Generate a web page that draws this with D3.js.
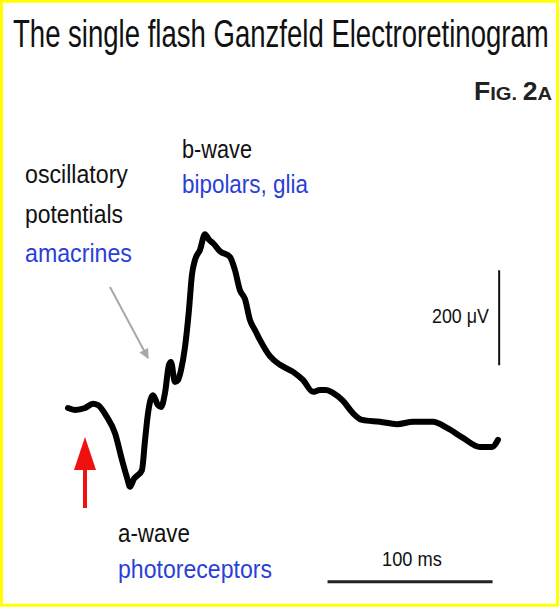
<html>
<head>
  <meta charset="utf-8">
  <script src="https://cdn.jsdelivr.net/npm/d3@7/dist/d3.min.js"></script>
  <style>
    body { margin:0; background:#fff; }
    svg text { font-family: "Liberation Sans", Arial, sans-serif; }
  </style>
</head>
<body>
  <svg id="chart" width="559" height="607"></svg>

  <script type="text/javascript">

  // ERG trace (time in ms after flash, amplitude in uV)
  let traceTime = [-10.3,-6.1,0,4.8,7.9,13.3,18.2,22.4,25.5,27.3,29.7,31.5,34.5,36.4,38.2,41.2,44.2,46.1,
                   48.5,50.9,52.1,54.5,56.4,58.2,60.6,63.0,64.8,66.7,69.7,72.7,75.2,77.6,81.8,87.9,90.9,
                   93.9,97.0,100,103,106.1,112.1,118.2,126.1,132.1,138.2,142.4,146.1,150.3,156.4,162.4,
                   167.9,178.8,189.1,198.8,210.9,219.4,229.1,239.4,246.7,250.3]
  let traceAmp  = [0,-4,0,9,6,-19,-53,-109,-147,-166,-149,-143,-131,-67,-11,27,6,2,
                   32,91,97,55,59,80,128,206,280,312,333,366,354,347,330,318,290,
                   248,229,185,164,143,109,91,76,59,34,38,38,32,15,-11,
                   -25,-29,-34,-29,-29,-42,-63,-82,-82,-67]

  // calibration bars
  let barVoltTime = 251      // ms, where the 200 uV bar stands
  let barVolt = [90, 290]    // uV
  let barTimeAmp = -366      // uV, where the 100 ms bar lies
  let barTime = [147, 247]   // ms

  let labelsLeft  = ["oscillatory", "potentials", "amacrines"]
  let labelsB     = ["b-wave", "bipolars, glia"]
  let labelsA     = ["a-wave", "photoreceptors"]

  let svg = d3.select("#chart")

  // frame
  svg.append("rect")
     .attr("x",1.5).attr("y",1.2)
     .attr("width",556).attr("height",604)
     .attr("fill","white")
     .attr("stroke","#ffff00")
     .attr("stroke-width",3)

  let x = d3.scaleLinear().domain([0,100]).range([85,250])
  let y = d3.scaleLinear().domain([0,200]).range([408,313])

  let pts = traceTime.map(function(t,i){ return [t, traceAmp[i]] })

  let line = d3.line()
     .x(function(d){ return x(d[0]) })
     .y(function(d){ return y(d[1]) })
     .curve(d3.curveMonotoneX)

  svg.append("path")
     .datum(pts)
     .attr("d", line)
     .attr("fill","none")
     .attr("stroke","black")
     .attr("stroke-width",6)
     .attr("stroke-linejoin","round")
     .attr("stroke-linecap","round")

  // scale bars
  svg.append("line")
     .attr("x1",x(barVoltTime)).attr("x2",x(barVoltTime))
     .attr("y1",y(barVolt[0])).attr("y2",y(barVolt[1]))
     .attr("stroke","#111").attr("stroke-width",2)

  svg.append("line")
     .attr("x1",x(barTime[0])).attr("x2",x(barTime[1]))
     .attr("y1",y(barTimeAmp)).attr("y2",y(barTimeAmp))
     .attr("stroke","#222").attr("stroke-width",3)

  // squeeze a text horizontally so it spans w pixels (the picture uses a narrow face)
  function fitText(sel, x0, y0, w){
    let n = sel.node().getComputedTextLength()
    sel.attr("transform","translate("+x0+","+y0+") scale("+(w/n)+",1)")
    return sel
  }

  fitText(svg.append("text")
     .attr("font-size",20)
     .attr("fill","#111")
     .text("200 \u03bcV"), 432, 323, 57)

  fitText(svg.append("text")
     .attr("font-size",21)
     .attr("fill","#111")
     .text("100 ms"), 382, 566, 60)

  // flash arrow (red)
  let fx = x(0)
  svg.append("line")
     .attr("x1",fx).attr("x2",fx)
     .attr("y1",466).attr("y2",508)
     .attr("stroke","#f01010").attr("stroke-width",4)
  svg.append("path")
     .attr("d","M"+(fx-11)+",470 L"+(fx+11)+",470 L"+fx+",437 Z")
     .attr("fill","#f01010")

  // oscillatory potentials pointer (gray)
  svg.append("defs").append("marker")
     .attr("id","gh")
     .attr("viewBox","0 0 10 10")
     .attr("refX",9).attr("refY",5)
     .attr("markerWidth",5).attr("markerHeight",5)
     .attr("orient","auto")
     .append("path").attr("d","M0,0 L10,5 L0,10 Z").attr("fill","#a8a8a8")
  svg.append("line")
     .attr("x1",110).attr("y1",287)
     .attr("x2",148).attr("y2",358)
     .attr("stroke","#a8a8a8").attr("stroke-width",2)
     .attr("marker-end","url(#gh)")

  // title
  fitText(svg.append("text")
     .attr("font-size",38)
     .attr("fill","#111")
     .text("The single flash Ganzfeld Electroretinogram"), 13, 47, 536)

  let fig = svg.append("text")
     .attr("font-weight","bold")
     .attr("fill","#222")
  fig.append("tspan").attr("font-size",25).text("F")
  fig.append("tspan").attr("font-size",19).text("IG. ")
  fig.append("tspan").attr("font-size",25).text("2")
  fig.append("tspan").attr("font-size",19).text("A")
  fitText(fig, 474, 100, 78)

  function label(txt, x0, y0, w, col){
    fitText(svg.append("text")
       .attr("font-size",26)
       .attr("fill",col)
       .text(txt), x0, y0, w)
  }
  let blue = "#2a3fd8"
  label(labelsLeft[0], 25, 183, 103, "#111")
  label(labelsLeft[1], 25, 223, 98, "#111")
  label(labelsLeft[2], 25, 262, 107, blue)
  label(labelsB[0], 182, 158, 70, "#111")
  label(labelsB[1], 182, 193, 126, blue)
  label(labelsA[0], 118, 542, 72, "#111")
  label(labelsA[1], 118, 578, 154, blue)

  </script>
</body>
</html>
